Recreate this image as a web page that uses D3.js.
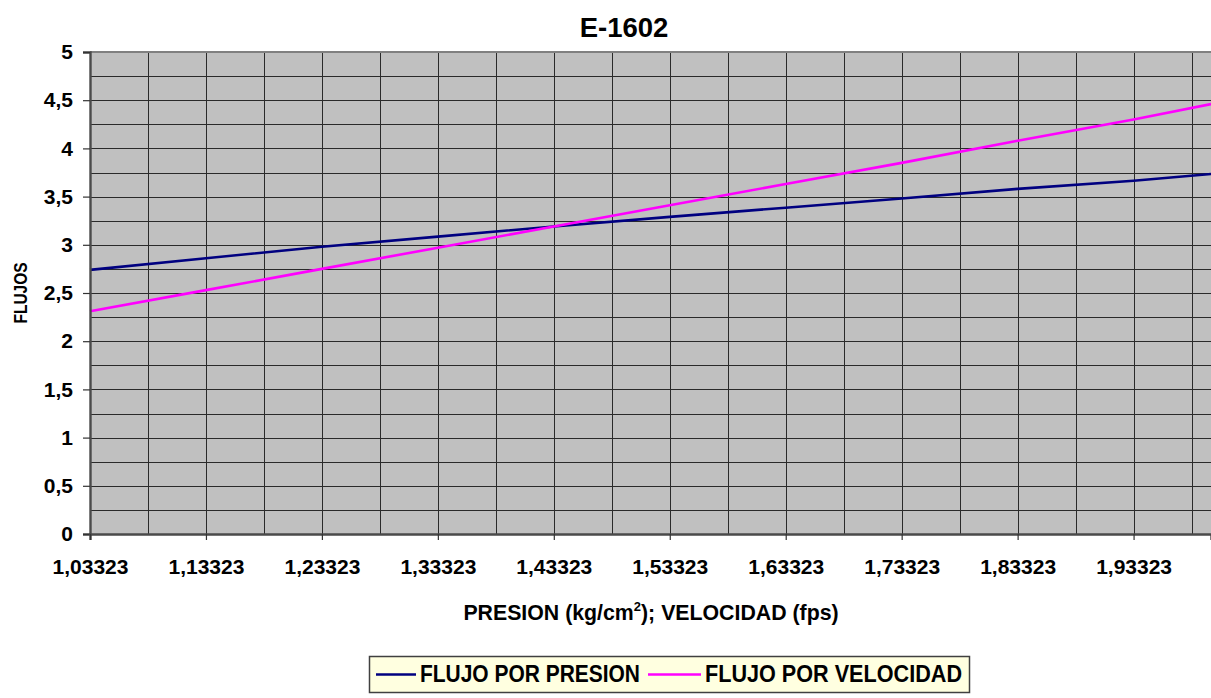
<!DOCTYPE html>
<html>
<head>
<meta charset="utf-8">
<script src="https://cdn.jsdelivr.net/npm/d3@7"></script>
<style>
  html, body { margin: 0; padding: 0; background: #ffffff; }
  svg { display: block; font-family: "Liberation Sans", Arial, sans-serif; font-weight: bold; }
</style>
</head>
<body>
<svg id="chart" width="1211" height="698"></svg>
<script>
// Abscissa: pressure (kg/cm2) / velocity (fps)
const xValues = [1.03323, 1.13323, 1.23323, 1.33323, 1.43323, 1.53323, 1.63323, 1.73323, 1.83323, 1.93323, 2.0];
// Flow computed from pressure
const flujoPresion = [2.74, 2.86, 2.98, 3.085, 3.19, 3.29, 3.385, 3.48, 3.58, 3.665, 3.735];
// Flow computed from velocity
const flujoVelocidad = [2.31, 2.53, 2.75, 2.97, 3.19, 3.41, 3.63, 3.85, 4.08, 4.30, 4.46];

const xTickLabels = ["1,03323", "1,13323", "1,23323", "1,33323", "1,43323", "1,53323", "1,63323", "1,73323", "1,83323", "1,93323"];
const yTickLabels = ["0", "0,5", "1", "1,5", "2", "2,5", "3", "3,5", "4", "4,5", "5"];

const seriesNames = ["FLUJO POR PRESION", "FLUJO POR VELOCIDAD"];
const seriesColors = ["#000080", "#ff00ff"];

const svg = d3.select("#chart");

const plot = { left: 90, right: 1211, top: 52, bottom: 534 };

const x = d3.scaleLinear().domain([1.03323, 2.0]).range([plot.left, plot.right]);
const y = d3.scaleLinear().domain([0, 5]).range([plot.bottom, plot.top]);

const xMajor = d3.range(0, 10).map(i => 1.03323 + i * 0.1);
const xMinor = d3.range(0, 20).map(i => 1.03323 + i * 0.05).filter(v => v <= 2.0);
const yMajor = d3.range(0, 11).map(i => i * 0.5);
const yMinor = d3.range(0, 21).map(i => i * 0.25);

// plot background
svg.append("rect")
  .attr("x", plot.left).attr("y", plot.top)
  .attr("width", plot.right - plot.left).attr("height", plot.bottom - plot.top)
  .attr("fill", "#c0c0c0");

// grid
const grid = svg.append("g").attr("stroke", "#2a2a2a").attr("stroke-width", 1).attr("shape-rendering", "crispEdges");
grid.selectAll("line.v").data(xMinor.slice(1)).join("line")
  .attr("x1", d => Math.round(x(d)) + 0.5).attr("x2", d => Math.round(x(d)) + 0.5)
  .attr("y1", plot.top).attr("y2", plot.bottom);
grid.selectAll("line.h").data(yMinor.slice(1, -1)).join("line")
  .attr("x1", plot.left).attr("x2", plot.right)
  .attr("y1", d => Math.round(y(d)) + 0.5).attr("y2", d => Math.round(y(d)) + 0.5);

// top border
svg.append("line")
  .attr("x1", plot.left).attr("x2", plot.right)
  .attr("y1", plot.top).attr("y2", plot.top)
  .attr("stroke", "#808080").attr("stroke-width", 2);

// series lines
const line = d3.line().x(d => x(d[0])).y(d => y(d[1]));
[flujoPresion, flujoVelocidad].forEach((vals, i) => {
  svg.append("path")
    .datum(xValues.map((xv, j) => [xv, vals[j]]))
    .attr("fill", "none")
    .attr("stroke", seriesColors[i])
    .attr("stroke-width", 2.6)
    .attr("stroke-linejoin", "round")
    .attr("d", line);
});

// y axis
const yAxis = d3.axisLeft(y).tickValues(yMajor).tickSize(7).tickPadding(10)
  .tickFormat((d, i) => yTickLabels[i]);
const gy = svg.append("g").attr("transform", `translate(${plot.left},0)`).call(yAxis);
gy.select(".domain").attr("stroke", "#4a4a4a").attr("stroke-width", 2.4);
gy.selectAll(".tick line").attr("stroke", "#333").attr("stroke-width", 1.2);
gy.selectAll(".tick text").attr("font-size", 21).attr("font-weight", "bold")
  .attr("fill", "#000").attr("font-family", "Liberation Sans, Arial, sans-serif");

// x axis
const xAxis = d3.axisBottom(x).tickValues(xMajor).tickSize(6).tickPadding(19)
  .tickFormat((d, i) => xTickLabels[i]);
const gx = svg.append("g").attr("transform", `translate(0,${plot.bottom})`).call(xAxis);
gx.select(".domain").attr("stroke", "#4a4a4a").attr("stroke-width", 2.4);
gx.selectAll(".tick line").attr("stroke", "#333").attr("stroke-width", 1.2);
gx.selectAll(".tick text").attr("font-size", 21).attr("font-weight", "bold")
  .attr("fill", "#000").attr("font-family", "Liberation Sans, Arial, sans-serif");

// title
svg.append("text").attr("x", 624).attr("y", 37)
  .attr("text-anchor", "middle").attr("font-size", 27.5).text("E-1602");

// axis titles
const xt = svg.append("text").attr("x", 651).attr("y", 620)
  .attr("text-anchor", "middle").attr("font-size", 21.3);
xt.append("tspan").text("PRESION (kg/cm");
xt.append("tspan").attr("font-size", 13).attr("dy", -9).text("2");
xt.append("tspan").attr("dy", 9).text("); VELOCIDAD (fps)");

svg.append("text")
  .attr("transform", "translate(26.5,293) rotate(-90)")
  .attr("text-anchor", "middle").attr("font-size", 18)
  .attr("textLength", 61).attr("lengthAdjust", "spacingAndGlyphs")
  .text("FLUJOS");

// legend
const legend = svg.append("g");
legend.append("rect")
  .attr("x", 369.5).attr("y", 656.5).attr("width", 600).attr("height", 36)
  .attr("fill", "#ffffe0").attr("stroke", "#404040").attr("stroke-width", 1.5);
const legendItems = [
  { lx: 376, tx: 420, tw: 220 },
  { lx: 648, tx: 705, tw: 257 }
];
legendItems.forEach((it, i) => {
  legend.append("line")
    .attr("x1", it.lx).attr("x2", it.tx - 4)
    .attr("y1", 674.5).attr("y2", 674.5)
    .attr("stroke", seriesColors[i]).attr("stroke-width", 2.4);
  legend.append("text")
    .attr("x", it.tx).attr("y", 682)
    .attr("font-size", 23)
    .attr("textLength", it.tw).attr("lengthAdjust", "spacingAndGlyphs")
    .text(seriesNames[i]);
});
</script>
</body>
</html>
